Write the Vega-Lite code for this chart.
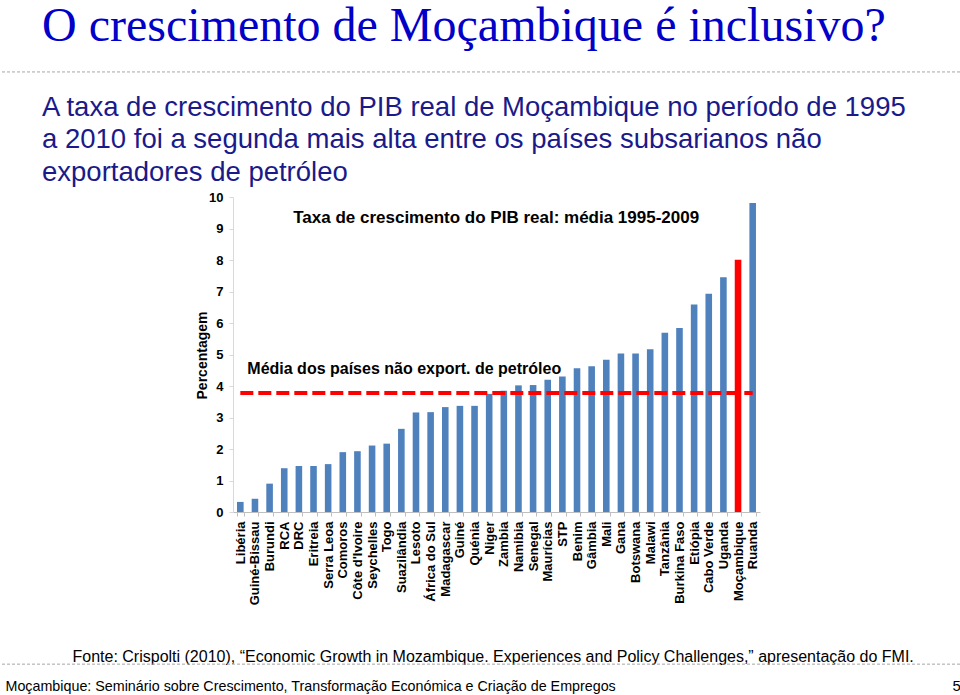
{
  "$schema": "https://vega.github.io/schema/vega-lite/v6.json",
  "width": 960,
  "height": 695,
  "autosize": {"type": "none"},
  "padding": 0,
  "background": "#ffffff",
  "config": {"view": {"stroke": null}, "font": "Liberation Sans", "axis": {"grid": false}},
  "title": {
    "text": "O crescimento de Moçambique é inclusivo?",
    "subtitle": [
      "A taxa de crescimento do PIB real de Moçambique no período de 1995",
      "a 2010 foi a segunda mais alta entre os países subsarianos não",
      "exportadores de petróleo"
    ],
    "orient": "top",
    "anchor": "start",
    "frame": "group",
    "offset": -186,
    "dx": 42,
    "font": "Liberation Serif",
    "fontSize": 48,
    "fontWeight": "normal",
    "color": "#0000C8",
    "subtitleFont": "Liberation Sans",
    "subtitleFontSize": 27.5,
    "subtitleColor": "#1A1A8A",
    "subtitleLineHeight": 32.5,
    "subtitlePadding": 43
  },
  "datasets": {
    "paises": [
      {"country": "Libéria", "value": 0.32},
      {"country": "Guiné-Bissau", "value": 0.42},
      {"country": "Burundi", "value": 0.9},
      {"country": "RCA", "value": 1.39},
      {"country": "DRC", "value": 1.46},
      {"country": "Eritreia", "value": 1.46},
      {"country": "Serra Leoa", "value": 1.52},
      {"country": "Comoros", "value": 1.9},
      {"country": "Côte d'Ivoire", "value": 1.93},
      {"country": "Seychelles", "value": 2.11},
      {"country": "Togo", "value": 2.17},
      {"country": "Suazilândia", "value": 2.64},
      {"country": "Lesoto", "value": 3.16},
      {"country": "África do Sul", "value": 3.17},
      {"country": "Madagascar", "value": 3.33},
      {"country": "Guiné", "value": 3.37},
      {"country": "Quénia", "value": 3.37},
      {"country": "Niger", "value": 3.75},
      {"country": "Zambia", "value": 3.85},
      {"country": "Namibia", "value": 4.02},
      {"country": "Senegal", "value": 4.03},
      {"country": "Maurícias", "value": 4.2},
      {"country": "STP", "value": 4.3},
      {"country": "Benim", "value": 4.56},
      {"country": "Gâmbia", "value": 4.63},
      {"country": "Mali", "value": 4.83},
      {"country": "Gana", "value": 5.03},
      {"country": "Botswana", "value": 5.03},
      {"country": "Malawi", "value": 5.17},
      {"country": "Tanzânia", "value": 5.69},
      {"country": "Burkina Faso", "value": 5.84},
      {"country": "Etiópia", "value": 6.59},
      {"country": "Cabo Verde", "value": 6.93},
      {"country": "Uganda", "value": 7.45},
      {"country": "Moçambique", "value": 8.01},
      {"country": "Ruanda", "value": 9.81}
    ],
    "media": [{"label": "Média dos países não export. de petróleo", "value": 3.78}]
  },
  "layer": [
    {
      "data": {"name": "paises"},
      "mark": {"type": "bar"},
      "encoding": {
        "x": {
          "field": "country",
          "type": "nominal",
          "sort": null,
          "scale": {
            "domain": ["Libéria", "Guiné-Bissau", "Burundi", "RCA", "DRC", "Eritreia", "Serra Leoa", "Comoros", "Côte d'Ivoire", "Seychelles", "Togo", "Suazilândia", "Lesoto", "África do Sul", "Madagascar", "Guiné", "Quénia", "Niger", "Zambia", "Namibia", "Senegal", "Maurícias", "STP", "Benim", "Gâmbia", "Mali", "Gana", "Botswana", "Malawi", "Tanzânia", "Burkina Faso", "Etiópia", "Cabo Verde", "Uganda", "Moçambique", "Ruanda"],
            "range": [233, 760],
            "paddingInner": 0.55,
            "paddingOuter": 0.275
          },
          "axis": {
            "orient": "bottom",
            "offset": -183,
            "title": "Fonte: Crispolti (2010), “Economic Growth in Mozambique. Experiences and Policy Challenges,” apresentação do FMI.",
            "titleX": 72,
            "titleY": 149,
            "titleAlign": "left",
            "titleBaseline": "alphabetic",
            "titleFont": "Liberation Sans",
            "titleFontSize": 16,
            "titleFontWeight": "normal",
            "titleColor": "#000000",
            "labelAngle": -90,
            "labelAlign": "right",
            "labelBaseline": "middle",
            "labelFontSize": 13,
            "labelFontWeight": "bold",
            "labelColor": "#000000",
            "labelPadding": 5,
            "labelOverlap": false,
            "tickBand": "extent",
            "tickSize": 4,
            "tickColor": "#BFBFBF",
            "domainColor": "#BFBFBF"
          }
        },
        "y": {
          "field": "value",
          "type": "quantitative",
          "scale": {"domain": [0, 10], "range": [512, 197], "nice": false},
          "axis": {
            "orient": "left",
            "offset": -233,
            "values": [0, 1, 2, 3, 4, 5, 6, 7, 8, 9, 10],
            "title": "Percentagem",
            "titleX": -27,
            "titleY": 355,
            "titleAngle": -90,
            "titleAlign": "center",
            "titleBaseline": "alphabetic",
            "titleFontSize": 14,
            "titleFontWeight": "bold",
            "titleColor": "#000000",
            "labelFontSize": 13,
            "labelFontWeight": "bold",
            "labelColor": "#000000",
            "labelPadding": 6,
            "tickSize": 4,
            "tickColor": "#D9D9D9",
            "domainColor": "#D9D9D9"
          }
        },
        "color": {
          "condition": {"test": "datum.country === 'Moçambique'", "value": "#FF0000"},
          "value": "#4F81BD"
        }
      }
    },
    {
      "data": {"name": "media"},
      "mark": {"type": "rule", "stroke": "#FF0000", "strokeWidth": 4, "strokeDash": [13, 5]},
      "encoding": {
        "x": {
          "datum": "Libéria",
          "type": "nominal",
          "axis": {
            "orient": "top",
            "labels": false,
            "ticks": false,
            "domain": false,
            "title": "Moçambique: Seminário sobre Crescimento, Transformação Económica e Criação de Empregos",
            "titleX": 5,
            "titleY": 690,
            "titleAlign": "left",
            "titleBaseline": "alphabetic",
            "titleFont": "Liberation Sans",
            "titleFontSize": 14.3,
            "titleFontWeight": "normal",
            "titleColor": "#000000"
          }
        },
        "x2": {"datum": "Ruanda"},
        "y": {
          "field": "value",
          "type": "quantitative",
          "axis": {
            "orient": "right",
            "labels": false,
            "ticks": false,
            "domain": false,
            "title": "5",
            "titleAngle": 0,
            "titleX": -8,
            "titleY": 690,
            "titleAlign": "left",
            "titleBaseline": "alphabetic",
            "titleFont": "Liberation Sans",
            "titleFontSize": 15,
            "titleFontWeight": "normal",
            "titleColor": "#000000"
          }
        }
      }
    },
    {
      "data": {"name": "media"},
      "mark": {"type": "text", "align": "left", "baseline": "alphabetic", "dx": 7, "dy": -19, "fontSize": 16, "fontWeight": "bold", "color": "#000000"},
      "encoding": {
        "x": {"datum": "Libéria", "type": "nominal", "axis": null},
        "y": {"field": "value", "type": "quantitative", "axis": null},
        "text": {"field": "label"}
      }
    },
    {
      "data": {"values": [{"label": "Taxa de crescimento do PIB real: média 1995-2009"}]},
      "mark": {"type": "text", "align": "center", "baseline": "alphabetic", "dx": 7, "fontSize": 17, "fontWeight": "bold", "color": "#000000"},
      "encoding": {
        "x": {"datum": "Niger", "type": "nominal", "axis": null},
        "y": {"datum": 9.17, "type": "quantitative", "axis": null},
        "text": {"field": "label"}
      }
    },
    {
      "data": {"values": [{}]},
      "mark": {"type": "rule", "stroke": "#A6A6A6", "strokeWidth": 1, "strokeDash": [3, 2]},
      "encoding": {"y": {"datum": 13.97, "type": "quantitative", "axis": null}}
    },
    {
      "data": {"values": [{}]},
      "mark": {"type": "rule", "stroke": "#A6A6A6", "strokeWidth": 1, "strokeDash": [3, 2]},
      "encoding": {"y": {"datum": -4.83, "type": "quantitative", "axis": null}}
    }
  ],
  "resolve": {"axis": {"x": "independent", "y": "independent"}}
}
